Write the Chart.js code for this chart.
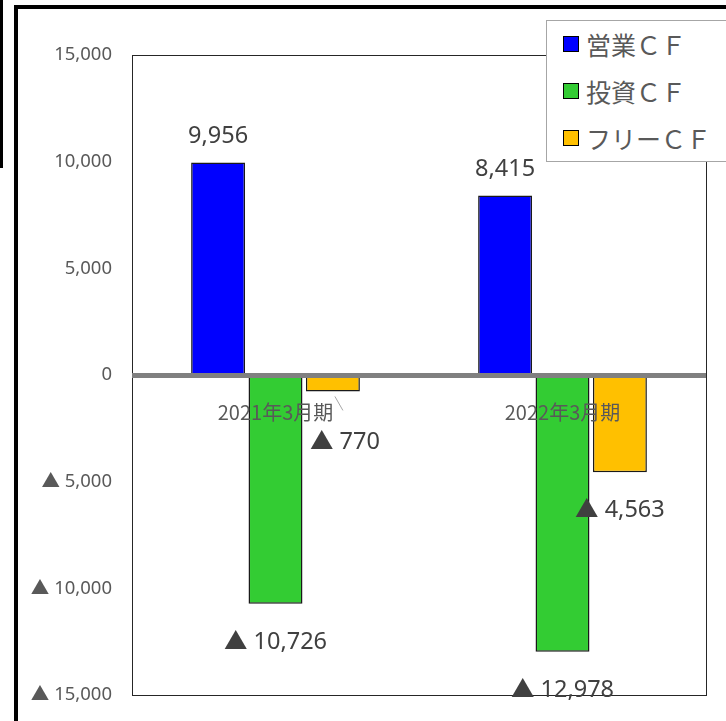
<!DOCTYPE html>
<html>
<head>
<meta charset="utf-8">
<script src="https://cdn.jsdelivr.net/npm/chart.js@4/dist/chart.umd.min.js"></script>
<style>
  body { margin: 0; background: #fff; }
  #wrap { position: relative; width: 726px; height: 721px; overflow: hidden; }
  #cfChart { position: absolute; left: 0; top: 0; }
  .frame { position: absolute; background: #000; }
  #legendBox {
    position: absolute; left: 546px; top: 20px; width: 200px; height: 140px;
    border: 1px solid #a6a6a6; background: #fff;
    font-family: "Noto Sans CJK JP", sans-serif; font-size: 25px; color: #595959;
  }
  .lg-row { height: 47px; line-height: 47px; position: relative; padding-left: 39px; white-space: nowrap; }
  .lg-box { position: absolute; left: 16px; top: 15px; width: 14px; height: 14px; border: 1px solid #000; }
</style>
</head>
<body>
<div id="wrap">
  <canvas id="cfChart" width="726" height="721"></canvas>
  <div class="frame" style="left:14px; top:5px; width:712px; height:4px;"></div>
  <div class="frame" style="left:14px; top:5px; width:4px; height:716px;"></div>
  <div class="frame" style="left:0; top:0; width:3px; height:168px;"></div>
  <div id="legendBox"></div>
</div>
<script>
/* ------------------------------
   DATA
--------------------------------*/

const categories = ["2021年3月期", "2022年3月期"];
const seriesNames = ["営業ＣＦ", "投資ＣＦ", "フリーＣＦ"];
const operatingCF = [9956, 8415];
const investingCF = [-10726, -12978];
const freeCF = [-770, -4563];
const seriesColors = ["#0000ff", "#33cc33", "#ffc000"];

function fmt(v) {
    let s = Math.abs(v).toLocaleString("en-US");
    return v < 0 ? "▲ " + s : s;
}

/* ------------------------------
   LABELS, ZERO LINE, PLOT BORDER
--------------------------------*/

const overlayPlugin = {
    id: "overlay",
    afterDatasetsDraw(chart) {
        const ctx = chart.ctx;
        const area = chart.chartArea;
        const y0 = chart.scales.y.getPixelForValue(0);

        ctx.save();
        // plot border
        ctx.strokeStyle = "#262626";
        ctx.lineWidth = 1;
        ctx.strokeRect(area.left + 0.5, area.top + 0.5, area.width, area.height);

        // zero line
        ctx.strokeStyle = "#808080";
        ctx.lineWidth = 5;
        ctx.beginPath();
        ctx.moveTo(area.left, y0 + 0.5);
        ctx.lineTo(area.right, y0 + 0.5);
        ctx.stroke();

        // category labels
        ctx.font = "20px 'Noto Sans CJK JP', sans-serif";
        ctx.fillStyle = "#595959";
        ctx.textAlign = "center";
        ctx.textBaseline = "middle";
        categories.forEach((c, i) => {
            ctx.fillText(c, chart.scales.x.getPixelForValue(i), y0 + 37);
        });

        // value labels
        ctx.font = "23.5px 'Noto Sans', 'Noto Sans CJK JP', sans-serif";
        ctx.fillStyle = "#404040";
        chart.data.datasets.forEach((ds, di) => {
            chart.getDatasetMeta(di).data.forEach((bar, i) => {
                const v = ds.data[i];
                let x = bar.x, y;
                if (v >= 0) {
                    y = bar.y - 26;
                } else {
                    y = bar.y + 38;
                    if (y < y0 + 67) {
                        y = y0 + 67;
                        x = bar.x + 12;
                        ctx.strokeStyle = "#a6a6a6";
                        ctx.lineWidth = 1;
                        ctx.beginPath();
                        ctx.moveTo(bar.x + 2, bar.y + 5);
                        ctx.lineTo(bar.x + 10, bar.y + 19);
                        ctx.stroke();
                    }
                }
                ctx.fillText(fmt(v), x, y);
            });
        });
        ctx.restore();
    }
};

/* ------------------------------
   CHART
--------------------------------*/

const cfChart = new Chart(document.getElementById("cfChart"), {
    type: "bar",
    data: {
        labels: categories,
        datasets: [operatingCF, investingCF, freeCF].map((d, i) => ({
            label: seriesNames[i],
            data: d,
            backgroundColor: seriesColors[i],
            borderColor: "#1a1a1a",
            borderWidth: 1.5,
            categoryPercentage: 0.6,
            barPercentage: 0.94
        }))
    },
    options: {
        responsive: false,
        animation: false,
        layout: { padding: { top: 55, right: 20, bottom: 26, left: 0 } },
        plugins: { legend: { display: false }, tooltip: { enabled: false } },
        scales: {
            x: { display: false },
            y: {
                min: -15000,
                max: 15000,
                afterFit(s) { s.width = 132; },
                grid: { display: false, drawTicks: false },
                border: { display: false },
                ticks: {
                    stepSize: 5000,
                    padding: 20,
                    color: "#595959",
                    font: { family: "'Noto Sans', 'Noto Sans CJK JP', sans-serif", size: 18.5, lineHeight: 0.5 },
                    callback: v => fmt(v)
                }
            }
        }
    },
    plugins: [overlayPlugin]
});

/* ------------------------------
   LEGEND (HTML)
--------------------------------*/

document.getElementById("legendBox").innerHTML = cfChart.data.datasets.map(ds =>
    '<div class="lg-row"><span class="lg-box" style="background:' + ds.backgroundColor + '"></span>' + ds.label + '</div>'
).join("");
</script>
</body>
</html>
